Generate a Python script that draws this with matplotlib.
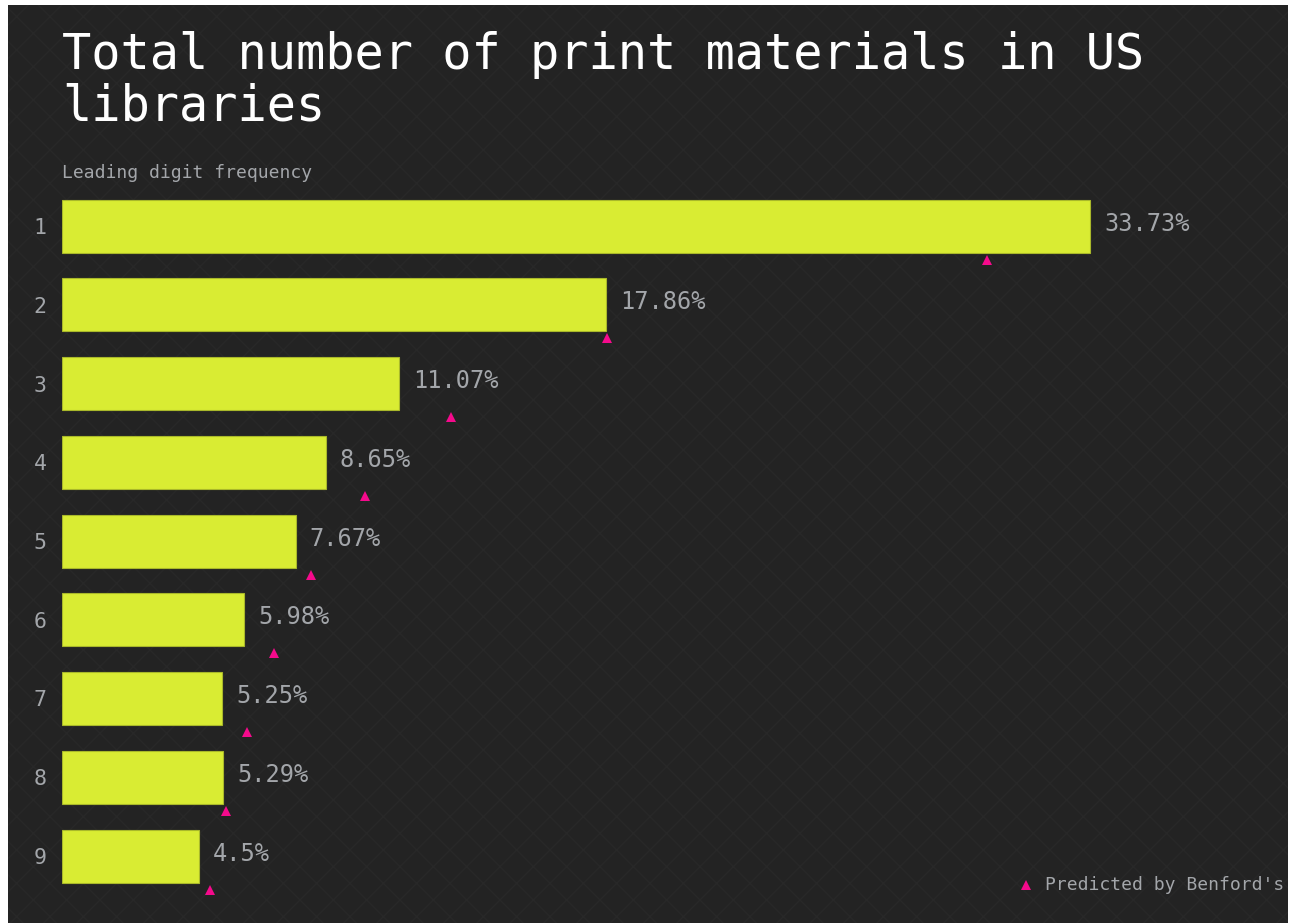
import matplotlib
matplotlib.use("Agg")
import matplotlib.pyplot as plt
from matplotlib.patches import Rectangle
from matplotlib.transforms import ScaledTranslation

# Leading digit frequencies (percent) of the print-material counts
digits = [1, 2, 3, 4, 5, 6, 7, 8, 9]
observed = [33.73, 17.86, 11.07, 8.65, 7.67, 5.98, 5.25, 5.29, 4.5]
benford = [30.10, 17.61, 12.49, 9.69, 7.92, 6.69, 5.80, 5.12, 4.58]
value_labels = ["33.73%", "17.86%", "11.07%", "8.65%", "7.67%",
                "5.98%", "5.25%", "5.29%", "4.5%"]

title = "Total number of print materials in US\nlibraries"
subtitle = "Leading digit frequency"
legend_label = "Predicted by Benford's"

W, H, DPI = 1291, 923, 100
BG = "#232323"
BAR = "#d9ec33"
PINK = "#f50a8c"
GREY = "#a3a6aa"
MONO = "DejaVu Sans Mono"

fig = plt.figure(figsize=(W / DPI, H / DPI), dpi=DPI, facecolor="white")

# dark panel with a faint diamond texture
panel = Rectangle((8 / W, 0), (1288 - 8) / W, (H - 5) / H,
                  transform=fig.transFigure, facecolor=BG,
                  edgecolor="#282828", hatch="x", linewidth=0, zorder=-10)
fig.patches.append(panel)

px_per_pct = 30.48
unit_px = 78.75
x0 = 62
y_top = 226 - unit_px / 2          # top of the axes (value 0.5)
y_bot = 856 + unit_px / 2          # bottom of the axes (value 9.5)
xmax = 40
ax = fig.add_axes([x0 / W, 1 - y_bot / H, xmax * px_per_pct / W, (y_bot - y_top) / H])
ax.set_facecolor("none")
ax.set_xlim(0, xmax)
ax.set_ylim(9.5, 0.5)

bar_h = 53 / unit_px
ax.barh(digits, observed, height=bar_h, color=BAR, edgecolor="#a9b82a",
        linewidth=0.8, zorder=2)

# value labels to the right of each bar
lab_off = ScaledTranslation(14 / DPI, 0, fig.dpi_scale_trans)
for d, v, s in zip(digits, observed, value_labels):
    ax.text(v, d - 0.03, s, transform=ax.transData + lab_off, ha="left",
            va="center", color=GREY, fontsize=17, family=MONO)

# Benford predictions, drawn just below each bar
tri_off = ScaledTranslation(8 / DPI, 0, fig.dpi_scale_trans)
tri_y = [d + bar_h / 2 + 7 / unit_px for d in digits]
ax.plot(benford, tri_y, linestyle="none", marker="^", markersize=7.5,
        color=PINK, markeredgewidth=0, transform=ax.transData + tri_off,
        clip_on=False, zorder=3)

ax.set_yticks(digits)
ax.set_yticklabels([str(d) for d in digits])
ax.tick_params(axis="y", length=0, pad=11, labelcolor=GREY, labelsize=15.5)
for lbl in ax.get_yticklabels():
    lbl.set_family(MONO)
ax.set_xticks([])
for sp in ax.spines.values():
    sp.set_visible(False)

fig.text(x0 / W, 1 - 31 / H, title, ha="left", va="top", color="white",
         fontsize=35, family=MONO, linespacing=1.08)
fig.text(x0 / W, 1 - 173 / H, subtitle, ha="left", va="center", color=GREY,
         fontsize=13, family=MONO)

# legend entry in the bottom-right corner
fig.text(1045 / W, 1 - 885 / H, legend_label, ha="left", va="center",
         color=GREY, fontsize=13, family=MONO)
fig.lines.append(plt.Line2D([1026 / W], [1 - 885 / H], marker="^",
                            markersize=7, color=PINK, markeredgewidth=0,
                            transform=fig.transFigure))

fig.savefig("out.png", dpi=DPI, facecolor=fig.get_facecolor())
